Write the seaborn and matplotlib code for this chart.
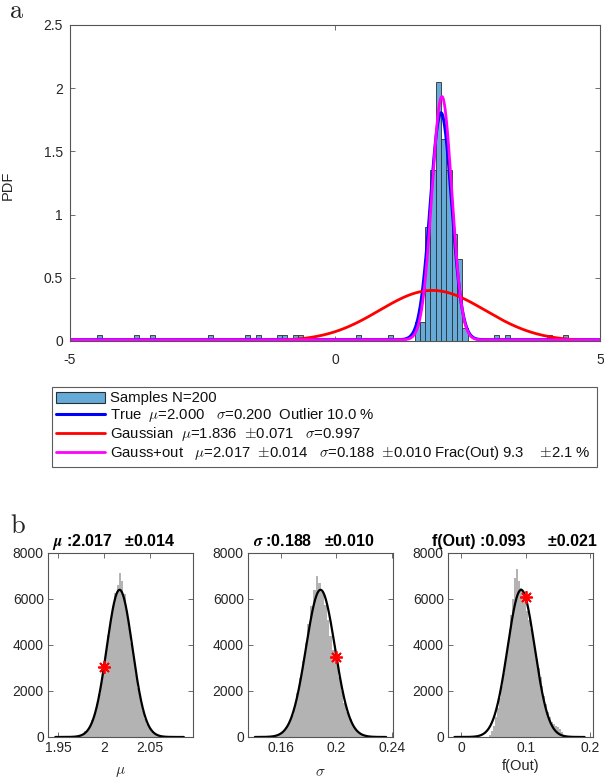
import numpy as np
import pandas as pd
import matplotlib
matplotlib.use("Agg")
import matplotlib.pyplot as plt
import seaborn as sns
from matplotlib.patches import Patch
from matplotlib.lines import Line2D
from matplotlib.ticker import FuncFormatter

# ---------------- data : panel a ----------------
N_SAMPLES = 200
BIN_WIDTH = 0.1
sample_bin_centers = [-4.45, -3.75, -3.45, -2.35, -1.65, -1.45, -1.05, -0.95, -0.75, -0.65,
                      0.45, 1.05,
                      1.55, 1.65, 1.75, 1.85, 1.95, 2.05, 2.15, 2.25, 2.35, 2.45,
                      3.05, 3.25, 4.05, 4.35]
sample_bin_counts = [1, 1, 1, 1, 1, 1, 1, 1, 1, 1,
                     1, 1,
                     3, 3, 18, 27, 41, 32, 27, 17, 13, 2,
                     1, 1, 1, 1]
x_range = [-5, 5]

true_mu, true_sigma, true_out = 2.000, 0.200, 0.100
gauss_mu, gauss_mu_err, gauss_sigma = 1.836, 0.071, 0.997
fit_mu, fit_mu_err = 2.017, 0.014
fit_sigma, fit_sigma_err = 0.188, 0.010
fit_out, fit_out_err = 0.093, 0.021

# ---------------- data : panel b ----------------
mu_bin_start, mu_bin_step = 1.965, 0.0025
mu_counts = [10, 20, 30, 60, 90, 150, 240, 350, 500, 720, 1000, 1380, 1850, 2400, 3050,
             3750, 4450, 5100, 5700, 6250, 6600, 7150, 6800, 6200, 5500, 4800, 4100, 3400,
             2750, 2150, 1600, 1150, 800, 550, 370, 230, 140, 80, 50, 30, 15, 5]
sig_bin_start, sig_bin_step = 0.156, 0.002
sig_counts = [80, 120, 180, 280, 430, 650, 950, 1350, 1900, 2550, 3300, 4100, 4900, 5700,
              6400, 7000, 6700, 6300, 5750, 5100, 4400, 3800, 3200, 2600, 2000, 1500, 1100,
              780, 540, 360, 230, 140, 80, 45, 25, 10, 5]
out_bin_start, out_bin_step = 0.045, 0.003
out_counts = [80, 250, 500, 850, 1250, 1700, 2200, 2800, 3400, 4000, 4700, 5300, 6000, 6900,
              7300, 6800, 6500, 6300, 5900, 5500, 5100, 4700, 4300, 3800, 3400, 3000, 2600,
              2200, 1800, 1450, 1100, 850, 650, 550, 500, 450, 350, 200, 60]

curve_peak = 6400
curve_mean = [2.017, 0.1885, 0.093]
curve_sd = [0.014, 0.0105, 0.021]
curve_span = [(1.947, 2.087), (0.141, 0.236), (-0.010, 0.191)]
true_values = [2.000, 0.200, 0.100]
star_heights = [3050, 3500, 6080]
panel_xlim = [(1.939, 2.097), (0.136, 0.241), (-0.020, 0.204)]
panel_xticks = [[1.95, 2.0, 2.05], [0.16, 0.2, 0.24], [0, 0.1, 0.2]]
panel_titles = [r"$\boldsymbol{\mu}$ :2.017   ±0.014",
                r"$\boldsymbol{\sigma}$ :0.188   ±0.010",
                "f(Out) :0.093     ±0.021"]
panel_xlabels = [r"$\mu$", r"$\sigma$", "f(Out)"]

# ---------------- style ----------------
sns.set_theme(style="ticks")
plt.rcParams["font.family"] = ["Liberation Sans", "DejaVu Sans"]
plt.rcParams["mathtext.fontset"] = "cm"
plt.rcParams["xtick.color"] = "#555555"
plt.rcParams["ytick.color"] = "#555555"
plt.rcParams["xtick.labelcolor"] = "#262626"
plt.rcParams["ytick.labelcolor"] = "#262626"
TXT = "#262626"

W, H = 604, 782
fig = plt.figure(figsize=(W / 100, H / 100), dpi=100)


def px_axes(x0, y0, x1, y1):
    return fig.add_axes([x0 / W, 1 - y1 / H, (x1 - x0) / W, (y1 - y0) / H])


def style_axes(ax):
    for s in ax.spines.values():
        s.set_visible(True)
        s.set_linewidth(0.8)
        s.set_color("#555555")
    ax.tick_params(direction="in", top=True, right=True, length=3.5, width=0.6,
                   labelsize=10, pad=3)


gfmt = FuncFormatter(lambda v, p: f"{v:g}")

# ---------------- panel a ----------------
ax = px_axes(70, 25, 600, 341)
df_a = pd.DataFrame({"x": sample_bin_centers,
                     "w": [c / (N_SAMPLES * BIN_WIDTH) for c in sample_bin_counts]})
edges = list(np.round(np.arange(x_range[0], x_range[1] + BIN_WIDTH / 2, BIN_WIDTH), 6))
bar_color = "#66aad7"
sns.histplot(data=df_a, x="x", weights="w", bins=edges, stat="count",
             color=bar_color, alpha=1.0, edgecolor="#2a2f35", linewidth=0.6, ax=ax)

xx = np.linspace(x_range[0], x_range[1], 2000)
unif = 1.0 / (x_range[1] - x_range[0])


def gpdf(x, m, s):
    return np.exp(-0.5 * ((x - m) / s) ** 2) / (s * np.sqrt(2 * np.pi))


y_true = (1 - true_out) * gpdf(xx, true_mu, true_sigma) + true_out * unif
y_gauss = gpdf(xx, gauss_mu, gauss_sigma)
y_fit = (1 - fit_out) * gpdf(xx, fit_mu, fit_sigma) + fit_out * unif
sns.lineplot(x=xx, y=y_true, color="#0000ff", lw=2.2, ax=ax)
sns.lineplot(x=xx, y=y_gauss, color="#ff0000", lw=2.0, ax=ax)
sns.lineplot(x=xx, y=y_fit, color="#ff00ff", lw=2.0, ax=ax)

ax.set_xlim(*x_range)
ax.set_ylim(0, 2.5)
ax.set_xticks([-5, 0, 5])
ax.set_yticks([0, 0.5, 1, 1.5, 2, 2.5])
ax.xaxis.set_major_formatter(gfmt)
ax.yaxis.set_major_formatter(gfmt)
style_axes(ax)
ax.tick_params(axis="x", pad=9)
ax.tick_params(axis="y", pad=5)
ax.set_ylabel("PDF", fontsize=10.5, color=TXT)
ax.yaxis.set_label_coords(-0.104, 0.494)
ax.set_xlabel("")

labels = [
    f"Samples N={N_SAMPLES}",
    f"True  $\\mu$={true_mu:.3f}   $\\sigma$={true_sigma:.3f}  Outlier {true_out*100:.1f} %",
    f"Gaussian  $\\mu$={gauss_mu:.3f}  $\\pm${gauss_mu_err:.3f}   $\\sigma$={gauss_sigma:.3f}",
    f"Gauss+out   $\\mu$={fit_mu:.3f}  $\\pm${fit_mu_err:.3f}   $\\sigma$={fit_sigma:.3f}  "
    f"$\\pm${fit_sigma_err:.3f} Frac(Out) {fit_out*100:.1f}    $\\pm${fit_out_err*100:.1f} %",
]
handles = [Patch(facecolor=bar_color, edgecolor="#2a2f35", linewidth=0.8),
           Line2D([], [], color="#0000ff", lw=2.2),
           Line2D([], [], color="#ff0000", lw=2.0),
           Line2D([], [], color="#ff00ff", lw=2.0)]
leg = ax.legend(handles, labels, loc="upper left",
                bbox_to_anchor=(52 / W, 1 - 467 / H, 545 / W, 80 / H),
                bbox_transform=fig.transFigure, mode="expand", borderaxespad=0,
                fontsize=10.7, handlelength=3.3, handleheight=0.8, handletextpad=0.3,
                labelspacing=0.06, borderpad=0.3, frameon=True, fancybox=False)
leg.get_frame().set_edgecolor("#333333")
leg.get_frame().set_linewidth(0.8)
for t in leg.get_texts():
    t.set_color("#111111")

fig.text(9 / W, 1 - 18 / H, r"$\mathrm{a}$", fontsize=19, ha="left", va="baseline")
fig.text(10 / W, 1 - 533 / H, r"$\mathrm{b}$", fontsize=19, ha="left", va="baseline")

# ---------------- panel b ----------------
panels = [(mu_bin_start, mu_bin_step, mu_counts),
          (sig_bin_start, sig_bin_step, sig_counts),
          (out_bin_start, out_bin_step, out_counts)]
lefts = [48, 248, 448]
for i, (b0, bs, cnts) in enumerate(panels):
    axb = px_axes(lefts[i], 553, lefts[i] + 145, 737)
    centers = b0 + bs * np.arange(len(cnts))
    bedges = list(b0 - bs / 2 + bs * np.arange(len(cnts) + 1))
    df_b = pd.DataFrame({"x": centers, "w": cnts})
    sns.histplot(data=df_b, x="x", weights="w", bins=bedges, stat="count", color="#b3b3b3",
                 alpha=1.0, linewidth=0, ax=axb)
    cx = np.linspace(curve_span[i][0], curve_span[i][1], 400)
    cy = curve_peak * np.exp(-0.5 * ((cx - curve_mean[i]) / curve_sd[i]) ** 2)
    sns.lineplot(x=cx, y=cy, color="black", lw=1.6, ax=axb)
    axb.plot([true_values[i]], [star_heights[i]], linestyle="none",
             marker=(8, 2, 0), color="red", markersize=9, markeredgewidth=1.3)
    axb.set_xlim(*panel_xlim[i])
    axb.set_ylim(0, 8000)
    axb.set_xticks(panel_xticks[i])
    axb.set_yticks([0, 2000, 4000, 6000, 8000])
    axb.xaxis.set_major_formatter(gfmt)
    style_axes(axb)
    axb.set_ylabel("")
    if i == 2:
        axb.set_xlabel(panel_xlabels[i], fontsize=10.5, color=TXT, labelpad=3)
    else:
        axb.set_xlabel(panel_xlabels[i], fontsize=11, color=TXT, labelpad=7)
    axb.set_title(panel_titles[i], fontsize=11.5, fontweight="bold", color="black",
                  pad=5, x=0.455)

fig.savefig("out.png", dpi=100)
